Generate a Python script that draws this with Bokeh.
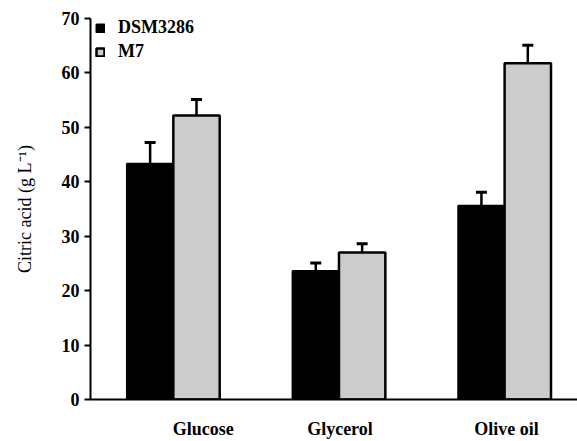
from bokeh.plotting import figure
from bokeh.models import (ColumnDataSource, Range1d, FixedTicker, Whisker, TeeHead,
                          Legend, LegendItem)
from bokeh.transform import dodge
from bokeh.embed import file_html
from bokeh.resources import INLINE

# ---- data ----
CATEGORIES = ["Glucose", "Glycerol", "Olive oil"]
SERIES = ["DSM3286", "M7"]
DSM3286 = [43.3, 23.6, 35.6]
DSM3286_ERR = [3.9, 1.5, 2.5]
M7 = [52.2, 27.0, 61.8]
M7_ERR_UP = [2.9, 1.6, 3.3]
M7_ERR_DOWN = [1.1, 1.0, 1.3]
Y_TICKS = [0, 10, 20, 30, 40, 50, 60, 70]
Y_LABEL = "Citric acid (g L\u207b\u00b9)"

# ---- style ----
FONT = "Liberation Serif"
BLACK = "#000000"
GREY = "#cccccc"
BAR_W = 0.28
X_START, X_END = -0.5, 2.44
FRAME_W_PX = 577 - 90
LABEL_SHIFT_PX = [30, 1, 2]   # horizontal shift of category labels, screen px

idx = list(range(len(CATEGORIES)))
src = ColumnDataSource(dict(
    x=idx,
    dsm=DSM3286,
    dsm_lo=[v - e for v, e in zip(DSM3286, DSM3286_ERR)],
    dsm_hi=[v + e for v, e in zip(DSM3286, DSM3286_ERR)],
    m7=M7,
    m7_lo=[v - e for v, e in zip(M7, M7_ERR_DOWN)],
    m7_hi=[v + e for v, e in zip(M7, M7_ERR_UP)],
))

p = figure(width=577, height=441, output_backend="svg", toolbar_location=None,
           x_range=Range1d(X_START, X_END), y_range=Range1d(0, 70),
           min_border_left=90, min_border_right=0, min_border_top=18, min_border_bottom=41)
p.outline_line_color = None
p.grid.visible = False
p.background_fill_color = "white"

r1 = p.vbar(x=dodge("x", -BAR_W / 2), top="dsm", width=BAR_W, bottom=0, source=src,
            fill_color=BLACK, line_color=BLACK, line_width=2)
r2 = p.vbar(x=dodge("x", BAR_W / 2), top="m7", width=BAR_W, bottom=0, source=src,
            fill_color=GREY, line_color=BLACK, line_width=2.5)

for base, lo, hi in [(dodge("x", -BAR_W / 2), "dsm_lo", "dsm_hi"),
                     (dodge("x", BAR_W / 2), "m7_lo", "m7_hi")]:
    w = Whisker(source=src, base=base, lower=lo, upper=hi, line_color=BLACK, line_width=2.5,
                upper_head=TeeHead(size=11, line_width=3, line_color=BLACK),
                lower_head=TeeHead(size=11, line_width=3, line_color=BLACK))
    p.add_layout(w)

# y axis
ya = p.yaxis[0]
ya.ticker = FixedTicker(ticks=Y_TICKS)
ya.minor_tick_line_color = None
ya.major_tick_in = 0
ya.major_tick_out = 6
ya.major_tick_line_width = 2
ya.axis_line_width = 2
ya.major_label_text_font = FONT
ya.major_label_text_font_style = "bold"
ya.major_label_text_font_size = "18px"
ya.major_label_text_color = BLACK
ya.major_label_standoff = 5
ya.axis_label = Y_LABEL
ya.axis_label_text_font = FONT
ya.axis_label_text_font_style = "normal"
ya.axis_label_text_font_size = "18px"
ya.axis_label_text_color = BLACK
ya.axis_label_standoff = 24

# x axis: baseline + category labels (no tick marks)
px_to_data = (X_END - X_START) / FRAME_W_PX
tick_pos = [i + s * px_to_data for i, s in zip(idx, LABEL_SHIFT_PX)]
xa = p.xaxis[0]
xa.ticker = FixedTicker(ticks=tick_pos)
xa.major_label_overrides = {t: name for t, name in zip(tick_pos, CATEGORIES)}
xa.minor_tick_line_color = None
xa.major_tick_line_color = None
xa.major_tick_in = 0
xa.major_tick_out = 0
xa.major_label_standoff = 19
xa.major_label_text_font = FONT
xa.major_label_text_font_style = "bold"
xa.major_label_text_font_size = "18px"
xa.major_label_text_color = BLACK
xa.axis_line_width = 2

legend = Legend(items=[LegendItem(label=SERIES[0], renderers=[r1]),
                       LegendItem(label=SERIES[1], renderers=[r2])],
                location=(0, 332), margin=0, padding=5, spacing=3,
                glyph_width=10, glyph_height=10, label_standoff=13, label_height=19,
                label_text_font=FONT, label_text_font_style="bold", label_text_font_size="18px",
                label_text_color=BLACK,
                background_fill_alpha=0, border_line_alpha=0)
p.add_layout(legend)

open("out.html", "w").write(file_html(p, INLINE))
